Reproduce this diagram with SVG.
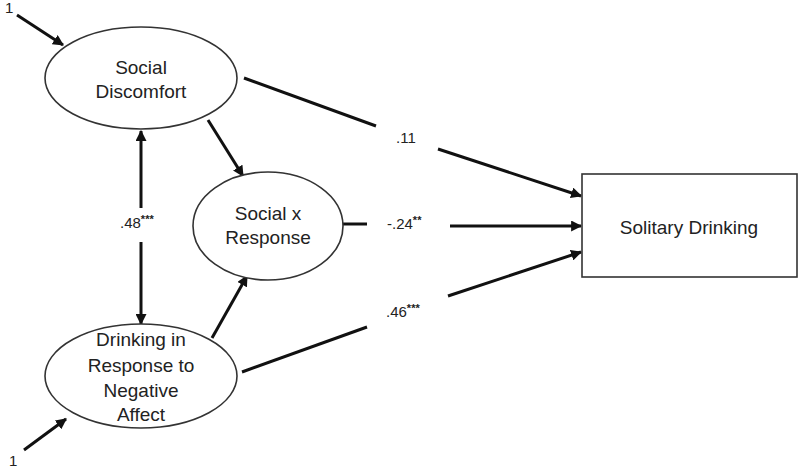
<svg xmlns="http://www.w3.org/2000/svg" width="800" height="468" viewBox="0 0 800 468">
<defs>
<marker id="ah" viewBox="0 0 10 10" refX="9" refY="5" markerWidth="11" markerHeight="11" markerUnits="userSpaceOnUse" orient="auto">
<path d="M0,0 L10,5 L0,10 z" fill="#111"/>
</marker>
<style>
.node{fill:#fff;stroke:#333;stroke-width:1.6}
.t{font-family:"Liberation Sans",Arial,sans-serif;font-size:19px;fill:#222;text-anchor:middle}
.lbl{font-family:"Liberation Sans",Arial,sans-serif;font-size:15px;fill:#222}
.sup{font-size:11px;font-weight:bold}
.c{stroke:#111;stroke-width:3;fill:none}
.ca{stroke:#111;stroke-width:3;fill:none;marker-end:url(#ah)}
</style>
</defs>
<rect width="800" height="468" fill="#fff"/>
<g id="connectors">
<line class="ca" x1="17" y1="15" x2="63" y2="45"/>
<line class="ca" x1="24" y1="450" x2="66" y2="419"/>
<line class="ca" x1="141" y1="208" x2="141" y2="131"/>
<line class="ca" x1="141" y1="242" x2="141" y2="324"/>
<line class="ca" x1="208" y1="120" x2="243" y2="176"/>
<line class="ca" x1="212" y1="338" x2="247" y2="276"/>
<line class="c" x1="244" y1="78" x2="376" y2="126"/>
<line class="ca" x1="438" y1="149" x2="581" y2="196"/>
<line class="c" x1="343" y1="224" x2="367" y2="224"/>
<line class="ca" x1="450" y1="226" x2="581" y2="226"/>
<line class="c" x1="242" y1="372" x2="367" y2="327"/>
<line class="ca" x1="448" y1="296" x2="581" y2="252"/>
<text class="lbl" x="5" y="13">1</text>
<text class="lbl" x="9" y="466">1</text>
<text class="lbl" x="120" y="228">.48<tspan class="sup" dy="-5">***</tspan></text>
<text class="lbl" x="396" y="143">.11</text>
<text class="lbl" x="387" y="229">-.24<tspan class="sup" dy="-5">**</tspan></text>
<text class="lbl" x="386" y="317">.46<tspan class="sup" dy="-5">***</tspan></text>
</g>
<g id="social-discomfort">
<ellipse class="node" cx="141" cy="78" rx="96" ry="51"/>
<text class="t" x="141" y="74">Social</text>
<text class="t" x="141" y="98">Discomfort</text>
</g>
<g id="drinking-response">
<ellipse class="node" cx="141" cy="376" rx="96" ry="52"/>
<text class="t" x="141" y="346">Drinking in</text>
<text class="t" x="141" y="372">Response to</text>
<text class="t" x="141" y="397">Negative</text>
<text class="t" x="141" y="421">Affect</text>
</g>
<g id="social-x-response">
<ellipse class="node" cx="268" cy="226" rx="75" ry="54"/>
<text class="t" x="268" y="220">Social x</text>
<text class="t" x="268" y="244">Response</text>
</g>
<g id="solitary-drinking">
<rect class="node" x="582" y="174" width="215" height="103"/>
<text class="t" x="689" y="234">Solitary Drinking</text>
</g>
</svg>
